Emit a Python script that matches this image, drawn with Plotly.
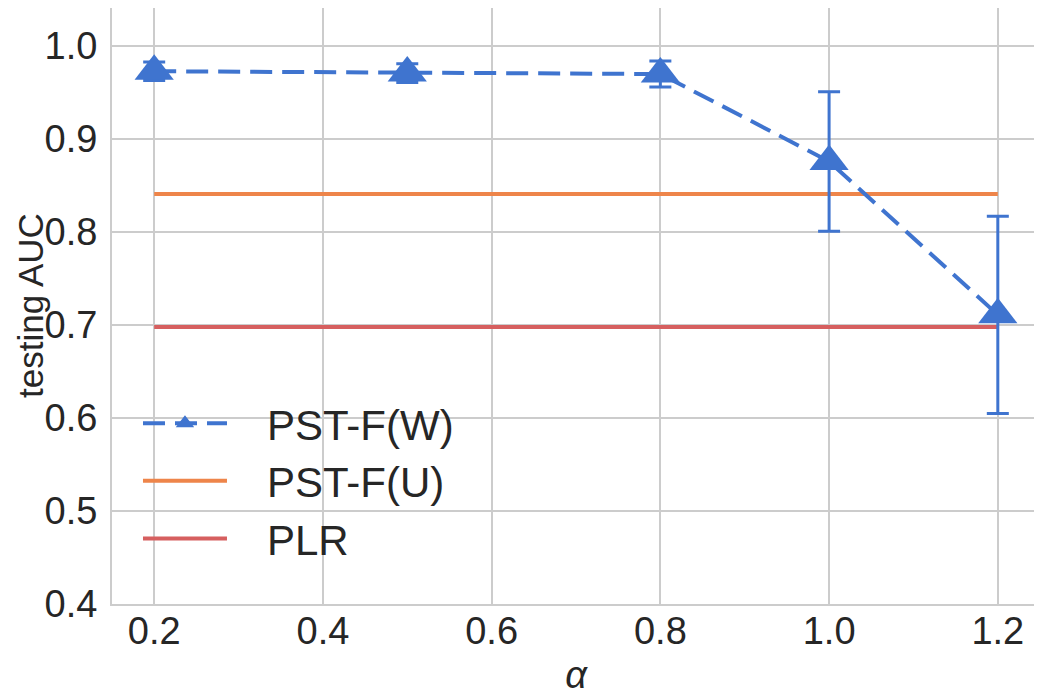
import plotly.graph_objects as go

# data
alpha = [0.2, 0.5, 0.8, 1.0, 1.2]
auc_w = [0.973, 0.971, 0.970, 0.876, 0.711]
err_w = [0.010, 0.010, 0.014, 0.075, 0.106]

x_flat = [0.2, 1.2]
auc_u = [0.841, 0.841]
auc_plr = [0.698, 0.698]

BLUE = '#3f74cf'
ORANGE = '#ee854a'
RED = '#d65f5f'
FONT = 'Liberation Sans, Arial, sans-serif'
PAD = '\u00a0\u00a0\u00a0'

fig = go.Figure()

fig.add_trace(go.Scatter(
    x=x_flat, y=auc_u, name=PAD + 'PST-F(U)', mode='lines', legendrank=2,
    line=dict(color=ORANGE, width=4),
))
fig.add_trace(go.Scatter(
    x=x_flat, y=auc_plr, name=PAD + 'PLR', mode='lines', legendrank=3,
    line=dict(color=RED, width=4),
))
fig.add_trace(go.Scatter(
    x=alpha, y=auc_w, name=PAD + 'PST-F(W)', mode='lines+markers', legendrank=1,
    line=dict(color=BLUE, width=4, dash='22px,10px'),
    marker=dict(symbol='triangle-up', size=34, color=BLUE),
    error_y=dict(type='data', array=err_w, color=BLUE, thickness=3, width=11),
))

# the page body adds 8px on the left and top, so the figure is 8px smaller
fig.update_layout(
    width=1034, height=688,
    margin=dict(l=104, r=2, t=0, b=92),
    paper_bgcolor='white', plot_bgcolor='white',
    font=dict(family=FONT, size=38, color='#262626'),
    showlegend=True,
    legend=dict(
        x=0.028, y=0.36, xanchor='left', yanchor='top',
        bgcolor='rgba(0,0,0,0)', font=dict(size=42),
        traceorder='normal', itemwidth=84, tracegroupgap=0,
    ),
    xaxis=dict(
        range=[0.15, 1.25], tickvals=[0.2, 0.4, 0.6, 0.8, 1.0, 1.2],
        ticktext=['0.2', '0.4', '0.6', '0.8', '1.0', '1.2'],
        showgrid=True, gridcolor='#cccccc', gridwidth=2,
        showline=True, linecolor='#cccccc', linewidth=2, mirror=True,
        zeroline=False, ticks='', ticklabelstandoff=-8, automargin=False,
        title=dict(text='<i>α</i>', font=dict(size=38), standoff=20),
    ),
    yaxis=dict(
        range=[0.4, 1.041], tickvals=[0.4, 0.5, 0.6, 0.7, 0.8, 0.9, 1.0],
        ticktext=['0.4', '0.5', '0.6', '0.7', '0.8', '0.9', '1.0'],
        showgrid=True, gridcolor='#cccccc', gridwidth=2,
        showline=True, linecolor='#cccccc', linewidth=2, mirror=True,
        zeroline=False, ticks='', ticklabelstandoff=5, automargin=False,
    ),
)

# y title as an annotation so it can sit nearer the page edge
fig.add_annotation(
    text='testing AUC', textangle=-90, showarrow=False,
    xref='paper', yref='paper', x=-82 / 928, y=0.5,
    xanchor='center', yanchor='middle', font=dict(size=35),
)

fig.write_html("out.html")
